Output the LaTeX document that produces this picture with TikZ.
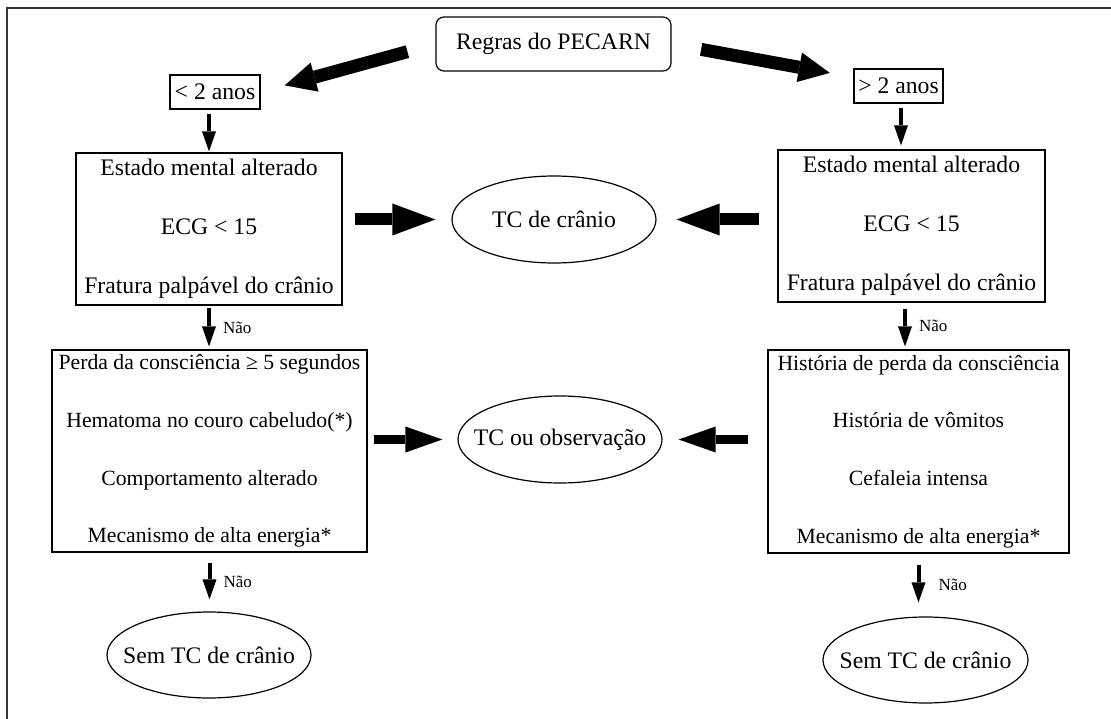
\documentclass[tikz,border=0pt]{standalone}
\usepackage{fontspec}
\setmainfont{Liberation Serif}
\usetikzlibrary{arrows.meta,shapes.geometric,calc}

\begin{document}
\begin{tikzpicture}[x=1pt,y=-1pt,
  box/.style={draw, line width=1.2pt, inner sep=0pt, align=center},
  oval/.style={draw, ellipse, line width=1.2pt, inner xsep=-30pt, inner ysep=0pt,
    font=\fontsize{23.7}{28}\selectfont},
  toptext/.style={font=\fontsize{23.7}{59}\selectfont},
  listtext/.style={font=\fontsize{21.7}{57.7}\selectfont},
  fat/.style={line width=12pt, -{Triangle[length=43pt,width=32pt,line width=0pt]}},
  medium/.style={line width=9pt, -{Triangle[length=37pt,width=26pt,line width=0pt]}},
  slant/.style={line width=13pt, -{Triangle[length=31pt,width=30pt,line width=0pt]}},
  stem/.style={line width=4pt, -{Triangle[length=20pt,width=14pt,line width=0pt]}},
  nao/.style={font=\fontsize{17}{20}\selectfont, inner sep=0pt, anchor=west}
]
\useasboundingbox (0,0) rectangle (1111,719);

% frame
\draw[line width=2.4pt, black!80] (1111,8) -- (7,8) -- (7,719);

% nodes
\node[box, rounded corners=8pt, minimum width=235pt, minimum height=54pt, toptext]
  (rules) at (553.5,44) {Regras do PECARN};
\node[box, minimum width=90pt, minimum height=34pt, toptext] (young) at (215,92) {< 2 anos};
\node[box, minimum width=89pt, minimum height=34pt, toptext] (old) at (898.5,86) {> 2 anos};

\node[box, minimum width=266pt, minimum height=152pt, toptext] (youngA) at (209,229)
  {Estado mental alterado\\ECG < 15\\Fratura palpável do crânio};
\node[box, minimum width=267pt, minimum height=152pt, toptext] (oldA) at (911.5,226)
  {Estado mental alterado\\ECG < 15\\Fratura palpável do crânio};
\node[oval, minimum width=204pt, minimum height=87pt] (ctA) at (554,219.5) {TC de crânio};

\node[box, minimum width=315pt, minimum height=202pt, listtext] (youngB) at (209.5,451)
  {Perda da consciência ≥ 5 segundos\\Hematoma no couro cabeludo(*)\\Comportamento alterado\\Mecanismo de alta energia*};
\node[box, minimum width=301pt, minimum height=203pt, listtext] (oldB) at (918.5,451.5)
  {História de perda da consciência\\História de vômitos\\Cefaleia intensa\\Mecanismo de alta energia*};
\node[oval, minimum width=204pt, minimum height=87pt] (ctB) at (560,439.5) {TC ou observação};

\node[oval, minimum width=204pt, minimum height=86pt] (youngC) at (209,655) {Sem TC de crânio};
\node[oval, minimum width=205pt, minimum height=86pt] (oldC) at (925.5,660) {Sem TC de crânio};

% branches from the title
\draw[slant, shorten <=29pt, shorten >=25pt] (rules.west) -- (young.east);
\draw[slant, shorten <=30pt, shorten >=24pt] (rules.east) -- ($(old.west)!0.5!(old.north west)$);

% vertical flow
\draw[stem, shorten <=4pt, shorten >=1pt] (young.south -| youngA.north) -- (youngA.north);
\draw[stem, shorten <=4pt, shorten >=4pt] ([xshift=2.5pt]old.south) -- ([xshift=2.5pt]old.south |- oldA.north);
\draw[stem, shorten <=2pt, shorten >=3pt] (youngA.south) -- (youngA.south |- youngB.north)
  node[nao, midway, xshift=12pt] {Não};
\draw[stem, shorten <=6pt, shorten >=3pt] ([xshift=-6.5pt]oldA.south) -- ([xshift=-6.5pt]oldA.south |- oldB.north)
  node[nao, midway, xshift=12pt] {Não};
\draw[stem, shorten <=10pt, shorten >=12pt] (youngB.south) -- (youngB.south |- youngC.north)
  node[nao, midway, xshift=12pt] {Não};
\draw[stem, shorten <=11pt, shorten >=14pt] (oldB.south) -- (oldB.south |- oldC.north)
  node[nao, midway, xshift=18pt] {Não};

% horizontal outcomes
\draw[fat, shorten <=12pt, shorten >=16pt] (youngA.east |- ctA.west) -- (ctA.west);
\draw[fat, shorten <=18pt, shorten >=20pt] (oldA.west |- ctA.east) -- (ctA.east);
\draw[medium, shorten <=6pt, shorten >=15pt] (youngB.east |- ctB.west) -- (ctB.west);
\draw[medium, shorten <=19.5pt, shorten >=16pt] (oldB.west |- ctB.east) -- (ctB.east);
\end{tikzpicture}
\end{document}
